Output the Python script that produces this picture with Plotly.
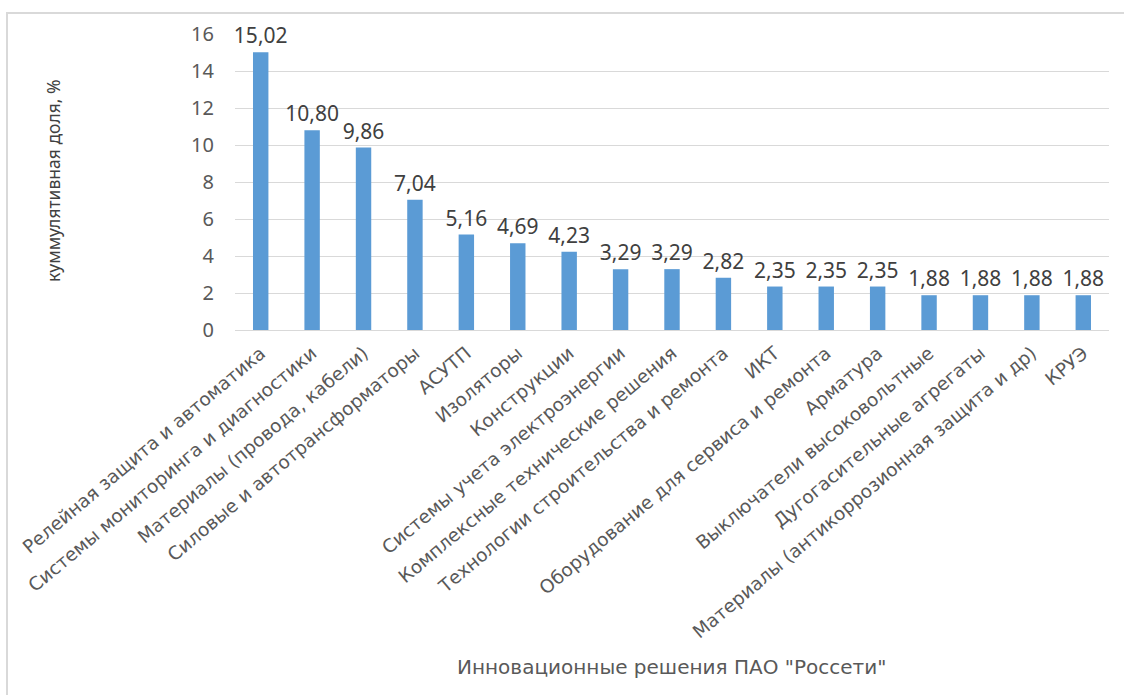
import plotly.graph_objects as go

categories = [
    "Релейная защита и автоматика",
    "Системы мониторинга и диагностики",
    "Материалы (провода, кабели)",
    "Силовые и автотрансформаторы",
    "АСУТП",
    "Изоляторы",
    "Конструкции",
    "Системы учета электроэнергии",
    "Комплексные технические решения",
    "Технологии строительства и ремонта",
    "ИКТ",
    "Оборудование для сервиса и ремонта",
    "Арматура",
    "Выключатели высоковольтные",
    "Дугогасительные агрегаты",
    "Материалы (антикоррозионная защита и др)",
    "КРУЭ",
]
values = [15.02, 10.80, 9.86, 7.04, 5.16, 4.69, 4.23, 3.29, 3.29, 2.82,
          2.35, 2.35, 2.35, 1.88, 1.88, 1.88, 1.88]
y_ticks = [0, 2, 4, 6, 8, 10, 12, 14, 16]

labels = [f"{v:.2f}".replace(".", ",") for v in values]

fig = go.Figure(go.Bar(
    x=categories,
    y=values,
    text=labels,
    textposition="outside",
    constraintext="none",
    cliponaxis=False,
    textfont=dict(family="Noto Sans", size=21, color="#404040"),
    marker=dict(color="#5B9BD5", line=dict(width=0)),
))

L, R, T, B = 235, 15, 34, 365
W, H = 1124, 695
pw, ph = W - L - R, H - T - B

fig.update_layout(
    width=W, height=H,
    margin=dict(l=L, r=R, t=T, b=B),
    paper_bgcolor="white",
    plot_bgcolor="white",
    bargap=0.7,
    showlegend=False,
    xaxis=dict(
        tickangle=-40,
        tickfont=dict(family="DejaVu Sans", size=18.5, color="#595959"),
        showgrid=False,
        showline=False,
        ticks="",
        ticklabelstandoff=8,
    ),
    yaxis=dict(
        range=[0, 16],
        tickvals=y_ticks,
        tickfont=dict(family="Noto Sans", size=20, color="#595959"),
        showgrid=True,
        gridcolor="#d9d9d9",
        gridwidth=1,
        zeroline=True,
        zerolinecolor="#d9d9d9",
        zerolinewidth=1,
        showline=False,
        ticks="",
        ticklabelstandoff=20,
    ),
    annotations=[
        dict(
            text="куммулятивная доля, %",
            xref="paper", yref="paper",
            x=(53 - L) / pw, y=(H - B - 181) / ph,
            showarrow=False, textangle=-90,
            font=dict(family="Noto Sans", size=17.5, color="#404040"),
            xanchor="center", yanchor="middle",
        ),
        dict(
            text="Инновационные решения ПАО \"Россети\"",
            xref="paper", yref="paper",
            x=(671 - L) / pw, y=(H - B - 667) / ph,
            showarrow=False,
            font=dict(family="DejaVu Sans", size=20, color="#595959"),
            xanchor="center", yanchor="middle",
        ),
    ],
    shapes=[
        dict(
            type="rect", xref="paper", yref="paper",
            x0=(7 - L) / pw, x1=(1140 - L) / pw,
            y0=(H - B - 720) / ph, y1=(H - B - 13) / ph,
            line=dict(color="#d9d9d9", width=2),
            fillcolor="rgba(0,0,0,0)",
            layer="below",
        ),
    ],
)

fig.write_html("out.html")
